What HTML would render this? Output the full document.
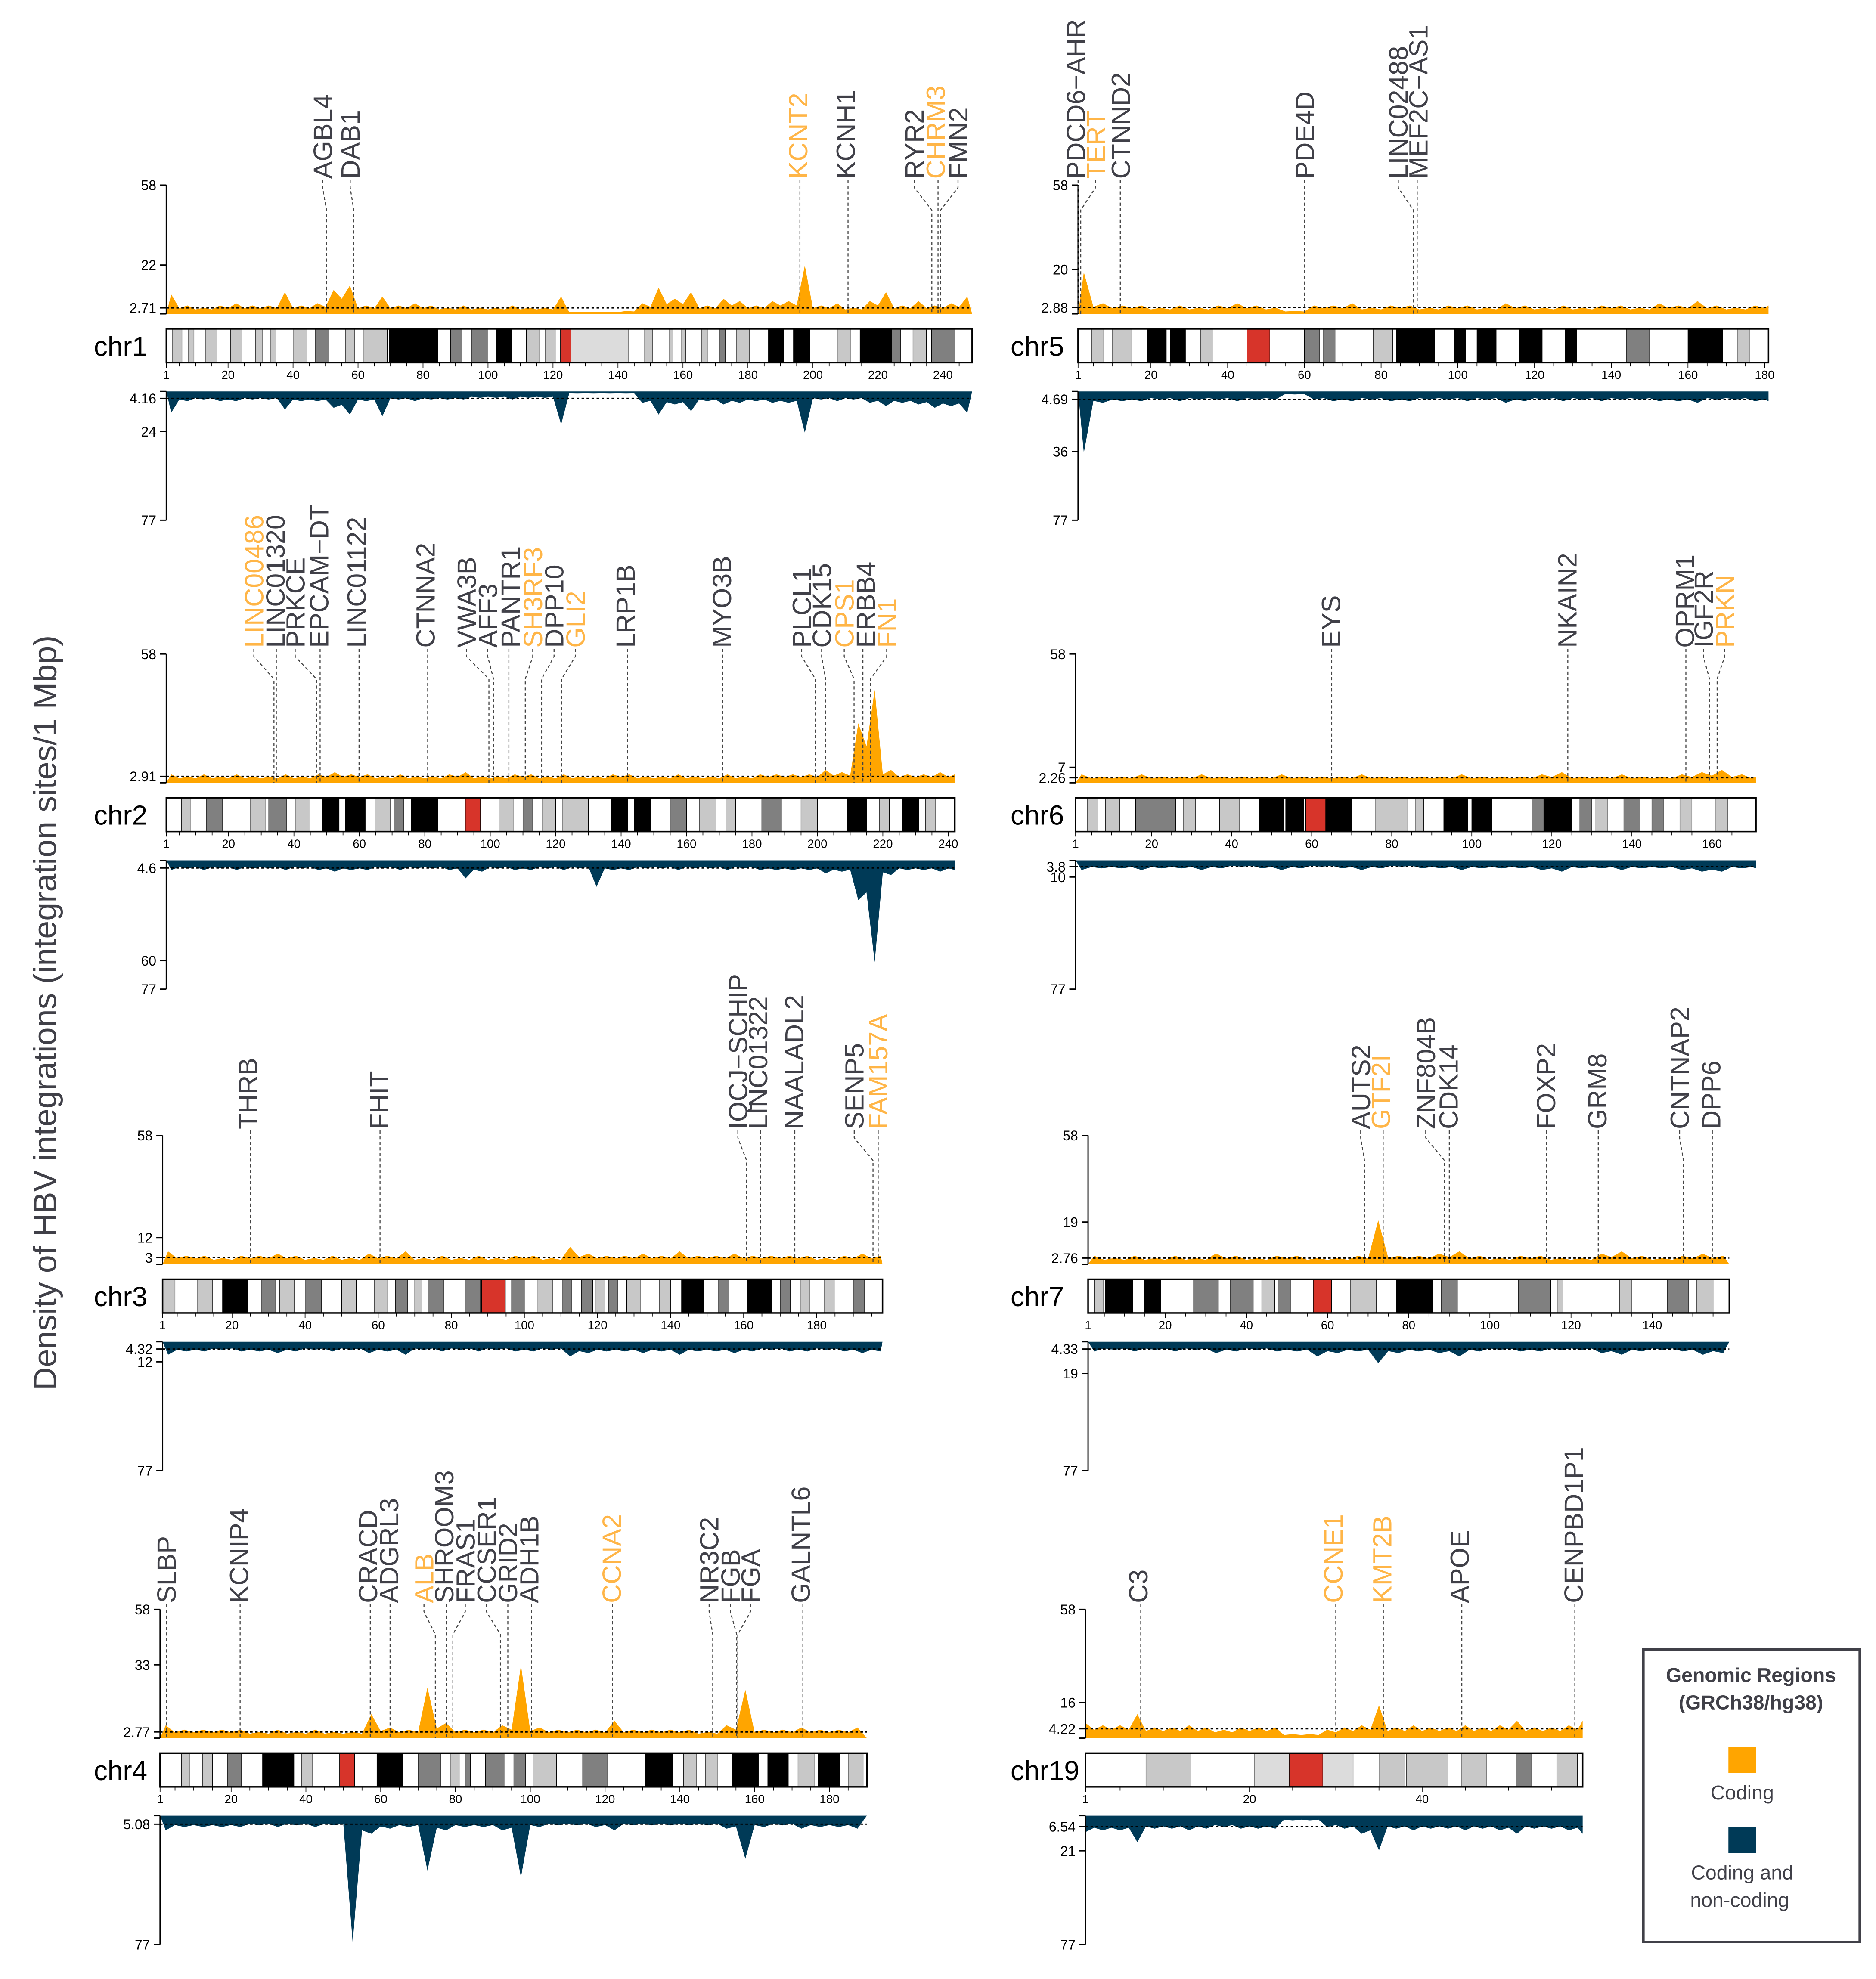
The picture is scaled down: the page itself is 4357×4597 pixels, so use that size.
<!DOCTYPE html>
<html><head><meta charset="utf-8"><title>HBV integration density</title>
<style>
html,body{margin:0;padding:0;background:#fff;}
svg{display:block;}
text{font-family:"Liberation Sans",sans-serif;}
.tk{font-family:"Liberation Sans Narrow","Liberation Sans",sans-serif;font-size:11px;fill:#000;}
.gl{font-size:21px;}
</style></head>
<body>
<svg id="fig" xmlns="http://www.w3.org/2000/svg" width="4357" height="4597" viewBox="0 0 1500 1582.6">
<rect x="0" y="0" width="1500" height="1582.6" fill="#fff"/>
<text x="45" y="810" transform="rotate(-90 45 810)" text-anchor="middle" font-size="26" fill="#404048">Density of HBV integrations (integration sites/1 Mbp)</text>
<g id="panels"></g>
<g>
<rect x="1314" y="1319" width="173" height="234" fill="#fff" stroke="#404048" stroke-width="2"/>
<text x="1400" y="1345" text-anchor="middle" font-size="16" font-weight="bold" fill="#404048">Genomic Regions</text>
<text x="1400" y="1367" text-anchor="middle" font-size="16" font-weight="bold" fill="#404048">(GRCh38/hg38)</text>
<rect x="1382" y="1397" width="22" height="21" fill="#FFA500"/>
<text x="1393" y="1439" text-anchor="middle" font-size="16" fill="#404048">Coding</text>
<rect x="1382" y="1461" width="22" height="21" fill="#003A57"/>
<text x="1393" y="1503" text-anchor="middle" font-size="16" fill="#404048">Coding and</text>
<text x="1391" y="1525" text-anchor="middle" font-size="16" fill="#404048">non-coding</text>
</g>
</svg>
<script>
// ---- data (density per bin, integration sites / 1 Mbp) ----
const chr1Coding=[8,3,2,3,4,3,3,9,3,4,10,12,3,7,3,4,3,2,3,2,2,3,2,2,7,0,0,0,0.5,4,11,6,9,3,6,5,3,5,5,21,3,4,2,5,9,3,5,3,4,7];
const chr1Total=[12,5,4,5,5,4,4,10,5,5,9,13,5,14,4,5,4,4,4,3,3,4,3,3,19,0.5,0.5,0.5,0.5,6,13,7,11,5,7,6,5,6,6,24,4,5,4,6,8,6,7,9,8,12];
const chr5Coding=[18,4,3,3,2,3,2,3,4,3,2,0.5,3,3,4,2,3,3,2,3,3,2,4,3,2,3,2,3,3,2,4,3,5,3,2,3,3];
const chr5Total=[36,6,5,5,4,5,4,4,5,4,4,1,4,5,5,4,5,5,4,4,5,4,6,5,4,5,4,5,4,4,5,5,6,4,4,5,5];
const chr2Coding=[3,2,3,2,3,2,2,3,2,3,4,3,3,2,3,2,2,3,4,2,2,3,3,2,3,2,2,3,3,2,2,3,2,2,3,2,3,3,3,3,5,4,26,41,5,3,3,4,3];
const chr2Total=[5,4,5,4,5,4,4,5,4,5,6,5,5,4,5,4,4,5,10,6,4,5,5,4,5,4,15,5,5,4,4,5,4,4,5,4,5,5,5,5,7,6,23,60,8,5,5,6,5];
const chr6Coding=[3,2,2,3,2,2,3,2,2,2,3,2,2,2,3,2,2,2,2,3,2,2,2,3,4,2,2,3,2,2,3,4,5,3,2];
const chr6Total=[5,4,4,5,4,4,5,4,3,4,5,4,3,4,5,4,3,4,4,5,4,4,4,5,6,4,4,5,4,4,5,6,6,4,4];
const chr3Coding=[5,3,3,2,3,3,4,3,2,3,2,4,3,5,2,3,2,3,2,3,3,2,7,4,3,3,4,3,5,3,3,4,3,3,3,3,2,3,4,3];
const chr3Total=[7,5,5,4,5,5,6,5,4,5,4,6,5,7,4,5,4,5,4,5,5,4,8,6,5,5,6,5,7,5,5,6,5,4,5,5,4,5,6,5];
const chr7Coding=[3,2,3,2,3,2,4,3,2,3,3,2,2,3,19,3,3,4,5,3,2,3,3,2,2,4,5,3,2,3,4,3];
const chr7Total=[5,4,5,4,5,4,6,5,4,5,5,8,6,5,12,6,5,6,8,5,4,5,5,4,4,6,7,5,4,5,7,6];
const chr4Coding=[5,3,3,3,3,2,3,2,3,2,2,10,4,3,22,6,3,3,5,32,4,3,3,3,7,3,3,3,3,2,5,21,3,3,4,3,3,4];
const chr4Total=[8,6,6,6,6,5,6,5,6,5,75,10,7,6,32,8,6,6,8,36,6,5,5,6,8,5,5,5,5,5,7,25,6,5,7,6,6,7];
const chr19Coding=[6,5,5,10,4,4,5,4,3,4,4,4,1,1,3,4,5,14,4,5,4,4,5,4,5,7,4,4,5,7];
const chr19Total=[9,8,8,15,7,7,8,7,6,7,7,7,2,2,6,7,10,20,7,8,7,7,8,7,8,10,7,7,8,10];
// tick labels / means
const chr1TopTicks=[58,22,2.71], chr1LowTicks=[4.16,24,77];
const chr5TopTicks=[58,20,2.88], chr5LowTicks=[4.69,36,77];
const chr2TopTicks=[58,2.91], chr2LowTicks=[4.6,60,77];
const chr6TopTicks=[58,7,2.26], chr6LowTicks=[3.8,10,77];
const chr3TopTicks=[58,12,3], chr3LowTicks=[4.32,12,77];
const chr7TopTicks=[58,19,2.76], chr7LowTicks=[4.33,19,77];
const chr4TopTicks=[58,33,2.77], chr4LowTicks=[5.08,77];
const chr19TopTicks=[58,16,4.22], chr19LowTicks=[6.54,21,77];
const chr1Means=[2.71,4.16], chr5Means=[2.88,4.69], chr2Means=[2.91,4.6], chr6Means=[2.26,3.8];
const chr3Means=[3,4.32], chr7Means=[2.76,4.33], chr4Means=[2.77,5.08], chr19Means=[4.22,6.54];
// cytobands [start Mb, end Mb, stain]
const chr1Bands=[[2.8,5.8,'l'],[7.7,9.5,'l'],[13,16.6,'l'],[20.8,24.3,'l'],[28.4,30.5,'l'],[33,34.8,'l'],[40.2,44.3,'l'],[46.8,51,'g'],[56.2,59,'l'],[61.6,69,'l'],[69.6,84.6,'k'],[88.5,92,'g'],[94.9,99.8,'g'],[102.5,107.2,'k'],[111.8,115.9,'l'],[117.7,120.7,'l'],[122.3,125.5,'r'],[125.5,143.3,'v'],[148,150.7,'l'],[155.7,156.9,'l'],[159.4,160.8,'l'],[165.8,167.5,'l'],[171.2,173,'g'],[176.4,180.4,'l'],[186.3,191,'k'],[194,199,'k'],[207.5,211.7,'l'],[214.5,224.3,'k'],[224.3,227,'g'],[230.8,234.9,'l'],[236.5,243.7,'g']];
const chr5Bands=[[4.6,7.5,'l'],[10,15,'l'],[19,24,'k'],[25,29,'k'],[33,36,'l'],[45,51,'r'],[60,64,'g'],[65,68,'g'],[78,83,'l'],[84,94,'k'],[99,102,'k'],[105,110,'k'],[116,122,'k'],[128,131,'k'],[144,150,'g'],[160,169,'k'],[173,176,'l']];
const chr2Bands=[[5.6,8.3,'l'],[13.2,18.2,'g'],[26.6,31.2,'l'],[32.3,37.7,'g'],[40.4,44.6,'l'],[48.8,53.8,'k'],[55.7,61.8,'k'],[64.8,69.4,'l'],[70.6,73.6,'g'],[75.9,84,'k'],[92.4,97,'r'],[103,107,'l'],[110,113,'g'],[116,120,'l'],[122,130,'l'],[137,142,'k'],[144,149,'k'],[155,160,'g'],[164,169,'l'],[172,175,'l'],[183,189,'g'],[195,200,'l'],[209,215,'k'],[219,222,'l'],[226,231,'k'],[233,236,'l']];
const chr6Bands=[[4,6.6,'l'],[8.5,12,'l'],[16,26,'g'],[28,31,'l'],[37,42,'l'],[47,53,'k'],[53.5,58,'k'],[58.5,63.5,'r'],[63.5,70,'k'],[76,84,'l'],[86,88,'l'],[93,99,'k'],[100,105,'k'],[115,118,'g'],[118,125,'k'],[127,130,'g'],[131,134,'l'],[138,142,'g'],[145,148,'g'],[152,155,'l'],[161,164,'l']];
const chr3Bands=[[1,4.4,'l'],[10.6,14.7,'l'],[17.4,24.3,'k'],[28,31.8,'g'],[33,37,'l'],[40,44.5,'g'],[50,54,'l'],[59,62.6,'l'],[64.7,68,'g'],[70,72,'l'],[73.6,78,'g'],[84,88,'g'],[88.3,94.8,'r'],[96.5,100,'g'],[103.7,107.8,'l'],[110.5,113,'g'],[115.6,118.7,'g'],[119.4,122,'l'],[123,125.6,'g'],[128,131.7,'l'],[137,140,'l'],[143,149,'k'],[153,156,'g'],[161,167.7,'k'],[170,172.8,'g'],[175.5,178,'l'],[182,184.8,'l'],[190,193,'g']];
const chr7Bands=[[2.5,4.7,'l'],[5.3,12,'k'],[14.9,18.9,'k'],[27,33,'g'],[36,41.7,'g'],[43.8,47,'l'],[48,51,'g'],[56.5,61,'r'],[65.7,72,'l'],[77,86,'k'],[88,92,'g'],[107,115,'g'],[116.6,118,'l'],[132,135,'l'],[143.7,149,'g'],[151,155,'l']];
const chr4Bands=[[6.7,9,'l'],[12.4,15,'l'],[19,22.7,'g'],[28.4,36.8,'k'],[38.8,41.8,'l'],[49,53,'r'],[59,66,'k'],[70,76,'g'],[78.6,81,'l'],[82.6,84,'g'],[88,93,'g'],[95.6,98.7,'g'],[100.7,107,'l'],[114,120.7,'g'],[130.8,138,'k'],[141,144.5,'l'],[146.8,150,'l'],[154,161,'k'],[163.5,169,'k'],[171.6,175.9,'l'],[177,182.7,'k'],[185,189,'l']];
const chr19Bands=[[8,13.2,'l'],[20.6,24.6,'v'],[24.6,28.5,'r'],[28.5,32,'v'],[35,38,'l'],[38.2,43,'l'],[44.6,47.5,'l'],[50.9,52.7,'g'],[55.6,58,'l']];
// genes [name, gene position Mb, coding?]
const chr1Genes=[['AGBL4',50.3,0],['DAB1',58.7,0],['KCNT2',196,1],['KCNH1',210.8,0],['RYR2',236.6,0],['CHRM3',238.5,1],['FMN2',239.3,0]];
const chr5Genes=[['PDCD6\u2212AHR',1,0],['TERT',1.7,1],['CTNND2',12,0],['PDE4D',60,0],['LINC02488',88.4,0],['MEF2C\u2212AS1',89.4,0]];
const chr2Genes=[['LINC00486',33.9,1],['LINC01320',34.6,0],['PRKCE',46.9,0],['EPCAM\u2212DT',48,0],['LINC01122',59.9,0],['CTNNA2',80.9,0],['VWA3B',99.6,0],['AFF3',101,0],['PANTR1',105.7,0],['SH3RF3',110.7,1],['DPP10',115.7,0],['GLI2',121.8,1],['LRP1B',142,0],['MYO3B',171,0],['PLCL1',199.4,0],['CDK15',202.5,0],['CPS1',211.2,1],['ERBB4',213.9,0],['FN1',216.2,1]];
const chr6Genes=[['EYS',65,0],['NKAIN2',124,0],['OPRM1',153.5,0],['IGF2R',159.4,0],['PRKN',161.3,1]];
const chr3Genes=[['THRB',25,0],['FHIT',60.5,0],['IQCJ\u2212SCHIP',160.8,0],['LINC01322',164.6,0],['NAALADL2',174,0],['SENP5',195.4,0],['FAM157A',196.8,1]];
const chr7Genes=[['AUTS2',69.1,0],['GTF2I',73.7,1],['ZNF804B',88.8,0],['CDK14',90,0],['FOXP2',114,0],['GRM8',126.7,0],['CNTNAP2',147.7,0],['DPP6',154.8,0]];
const chr4Genes=[['SLBP',2.7,0],['KCNIP4',22.4,0],['CRACD',57.2,0],['ADGRL3',62.5,0],['ALB',74.6,1],['SHROOM3',77.6,0],['FRAS1',79.3,0],['CCSER1',92,0],['GRID2',94,0],['ADH1B',100.3,0],['CCNA2',122,1],['NR3C2',148.8,0],['FGB',155.2,0],['FGA',155.5,0],['GALNTL6',172.9,0]];
const chr19Genes=[['C3',7.4,0],['CCNE1',30,1],['KMT2B',35.5,1],['APOE',44.6,0],['CENPBD1P1',57.7,0]];

// ---- layout ----
const panels=[
 {name:'chr1',L:249,x0:133,k:2.598,y:148,bin:5,cod:chr1Coding,tot:chr1Total,tt:chr1TopTicks,lt:chr1LowTicks,m:chr1Means,bands:chr1Bands,genes:chr1Genes,labs:[258,280,638,676,731,748,766],cx:75},
 {name:'chr5',L:181,x0:862,k:3.067,y:148,bin:5,cod:chr5Coding,tot:chr5Total,tt:chr5TopTicks,lt:chr5LowTicks,m:chr5Means,bands:chr5Bands,genes:chr5Genes,labs:[860,876,896,1043,1118,1134],cx:808},
 {name:'chr2',L:242,x0:133,k:2.616,y:523,bin:5,cod:chr2Coding,tot:chr2Total,tt:chr2TopTicks,lt:chr2LowTicks,m:chr2Means,bands:chr2Bands,genes:chr2Genes,labs:[203,220,236,255,285,340,373,390,408,426,443,460,500,577,641,657,675,692,709],cx:75},
 {name:'chr6',L:171,x0:860,k:3.2,y:523,bin:5,cod:chr6Coding,tot:chr6Total,tt:chr6TopTicks,lt:chr6LowTicks,m:chr6Means,bands:chr6Bands,genes:chr6Genes,labs:[1064,1253,1347,1362,1379],cx:808},
 {name:'chr3',L:198,x0:130,k:2.922,y:908,bin:5,cod:chr3Coding,tot:chr3Total,tt:chr3TopTicks,lt:chr3LowTicks,m:chr3Means,bands:chr3Bands,genes:chr3Genes,labs:[198,303,590,606,635,683,702],cx:75},
 {name:'chr7',L:159,x0:870,k:3.245,y:908,bin:5,cod:chr7Coding,tot:chr7Total,tt:chr7TopTicks,lt:chr7LowTicks,m:chr7Means,bands:chr7Bands,genes:chr7Genes,labs:[1088,1104,1140,1158,1236,1277,1343,1368],cx:808},
 {name:'chr4',L:190,x0:128,k:2.99,y:1287,bin:5,cod:chr4Coding,tot:chr4Total,tt:chr4TopTicks,lt:chr4LowTicks,m:chr4Means,bands:chr4Bands,genes:chr4Genes,labs:[133,191,294,311,339,355,372,389,406,423,489,567,584,600,640],cx:75},
 {name:'chr19',L:58.6,x0:868,k:6.9,y:1287,bin:2,cod:chr19Coding,tot:chr19Total,tt:chr19TopTicks,lt:chr19LowTicks,m:chr19Means,bands:chr19Bands,genes:chr19Genes,labs:[910,1066,1105,1167,1258],cx:808}
];
const NS='http://www.w3.org/2000/svg';
const root=document.getElementById('panels');
const bandColor={l:'#c8c8c8',g:'#808080',k:'#000000',r:'#d7342a',v:'#dcdcdc'};
function mk(tag,attrs,parent){const e=document.createElementNS(NS,tag);for(const a in attrs)e.setAttribute(a,attrs[a]);parent.appendChild(e);return e;}
// jagged profile: peak at each bin centre, shallow trough between neighbours
function profile(arr,p,X,Y,off,tf){
  let pts=[];
  arr.forEach((v,i)=>{
    const c=Math.max(Math.min(i*p.bin+p.bin/2,p.L),1);
    pts.push([X(c),Y(v+off)]);
    if(i<arr.length-1){
      const c2=Math.min(c+p.bin/2,p.L);
      const w=Math.min(v,arr[i+1])*tf;
      pts.push([X(c2),Y(w+off)]);
    }
  });
  return pts.map(q=>' L'+q[0].toFixed(2)+','+q[1].toFixed(2)).join('');
}
panels.forEach(p=>{
  const g=mk('g',{},root);
  
  
  const X=pos=>p.x0+(pos-1)*p.k;
  const xEnd=X(p.L);
  const yB=p.y+103, yT=v=>yB-v*103/58;
  const yL=p.y+165, yLo=v=>yL+v*103/77;
  let d='M'+X(1)+','+yB+profile(p.cod,p,X,yT,0.8,0.6)+' L'+xEnd+','+yB+' Z';
  const a1=mk('path',{d:d,fill:'#FFA500'},g);
  
  
  let d2='M'+X(1)+','+yL+profile(p.tot,p,X,yLo,0.8,0.8)+' L'+xEnd+','+yL+' Z';
  const a2=mk('path',{d:d2,fill:'#003A57'},g);
  
  
  const m1=mk('line',{x1:X(1),x2:xEnd,y1:yT(p.m[0]),y2:yT(p.m[0]),stroke:'#000','stroke-width':1,'stroke-dasharray':'2,2'},g);
  
  
  const m2=mk('line',{x1:X(1),x2:xEnd,y1:yLo(p.m[1]),y2:yLo(p.m[1]),stroke:'#000','stroke-width':1,'stroke-dasharray':'2,2'},g);
  
  
  const ax=mk('line',{x1:p.x0,x2:p.x0,y1:p.y,y2:yB,stroke:'#000','stroke-width':1},g);
  
  
  const ax2=mk('line',{x1:p.x0,x2:p.x0,y1:yL,y2:yLo(77),stroke:'#000','stroke-width':1},g);
  
  
  mk('line',{x1:p.x0-5,x2:p.x0,y1:yB,y2:yB,stroke:'#000'},g);
  mk('line',{x1:p.x0-5,x2:p.x0,y1:yL,y2:yL,stroke:'#000'},g);
  p.tt.forEach(v=>{
    mk('line',{x1:p.x0-5,x2:p.x0,y1:yT(v),y2:yT(v),stroke:'#000'},g);
    const t=mk('text',{x:p.x0-8,y:yT(v)+4,'text-anchor':'end',class:'tk'},g);t.textContent=v;
    
    
  });
  p.lt.forEach(v=>{
    mk('line',{x1:p.x0-5,x2:p.x0,y1:yLo(v),y2:yLo(v),stroke:'#000'},g);
    const t=mk('text',{x:p.x0-8,y:yLo(v)+4,'text-anchor':'end',class:'tk'},g);t.textContent=v;
    
    
  });
  const iy=p.y+115, ih=27;
  const ib=mk('rect',{x:X(1),y:iy,width:xEnd-X(1),height:ih,fill:'#fff'},g);
  
  
  p.bands.forEach(b=>{
    const r=mk('rect',{x:X(b[0]),y:iy,width:Math.max(X(b[1])-X(b[0]),0.5),height:ih,fill:bandColor[b[2]],stroke:'#000','stroke-width':0.4},g);
    
    
  });
  mk('rect',{x:X(1),y:iy,width:xEnd-X(1),height:ih,fill:'none',stroke:'#000','stroke-width':1.2},g);
  const cl=mk('text',{x:p.cx,y:iy+ih/2+8,'font-size':22,fill:'#000'},g);cl.textContent=p.name;
  
  
  const ty=iy+ih;
  for(let v=5;v<p.L;v+=5){mk('line',{x1:X(v),x2:X(v),y1:ty,y2:ty+(v%20===0?4:3),stroke:'#000','stroke-width':0.6},g);}
  mk('line',{x1:X(1),x2:X(1),y1:ty,y2:ty+4,stroke:'#000','stroke-width':0.6},g);
  const xl=[1];for(let v=20;v<p.L;v+=20)xl.push(v);
  xl.forEach(v=>{const t=mk('text',{x:X(v),y:ty+13,'text-anchor':'middle',class:'tk'},g);t.textContent=v;t.style.fontSize='9.5px';
    
    });
  p.genes.forEach((gn,i)=>{
    const lx=p.labs[i], gx=X(gn[1]);
    const y0=p.y-4;
    let dd;
    if(Math.abs(lx-gx)>2.5) dd='M'+lx+','+y0+' L'+lx+','+(p.y+2)+' L'+gx+','+(p.y+20)+' L'+gx+','+yB;
    else dd='M'+gx+','+y0+' L'+gx+','+yB;
    const ln=mk('path',{d:dd,fill:'none',stroke:'#444','stroke-width':0.8,'stroke-dasharray':'2.5,2'},g);
    
    
    const tx=lx+7.5, tyy=p.y-5;
    const t=mk('text',{x:tx,y:tyy,transform:'rotate(-90 '+tx+' '+tyy+')',class:'gl',fill:gn[2]?'#FFB547':'#404048'},g);
    t.textContent=gn[0];
    
    
  });
});
</script>
</body></html>
